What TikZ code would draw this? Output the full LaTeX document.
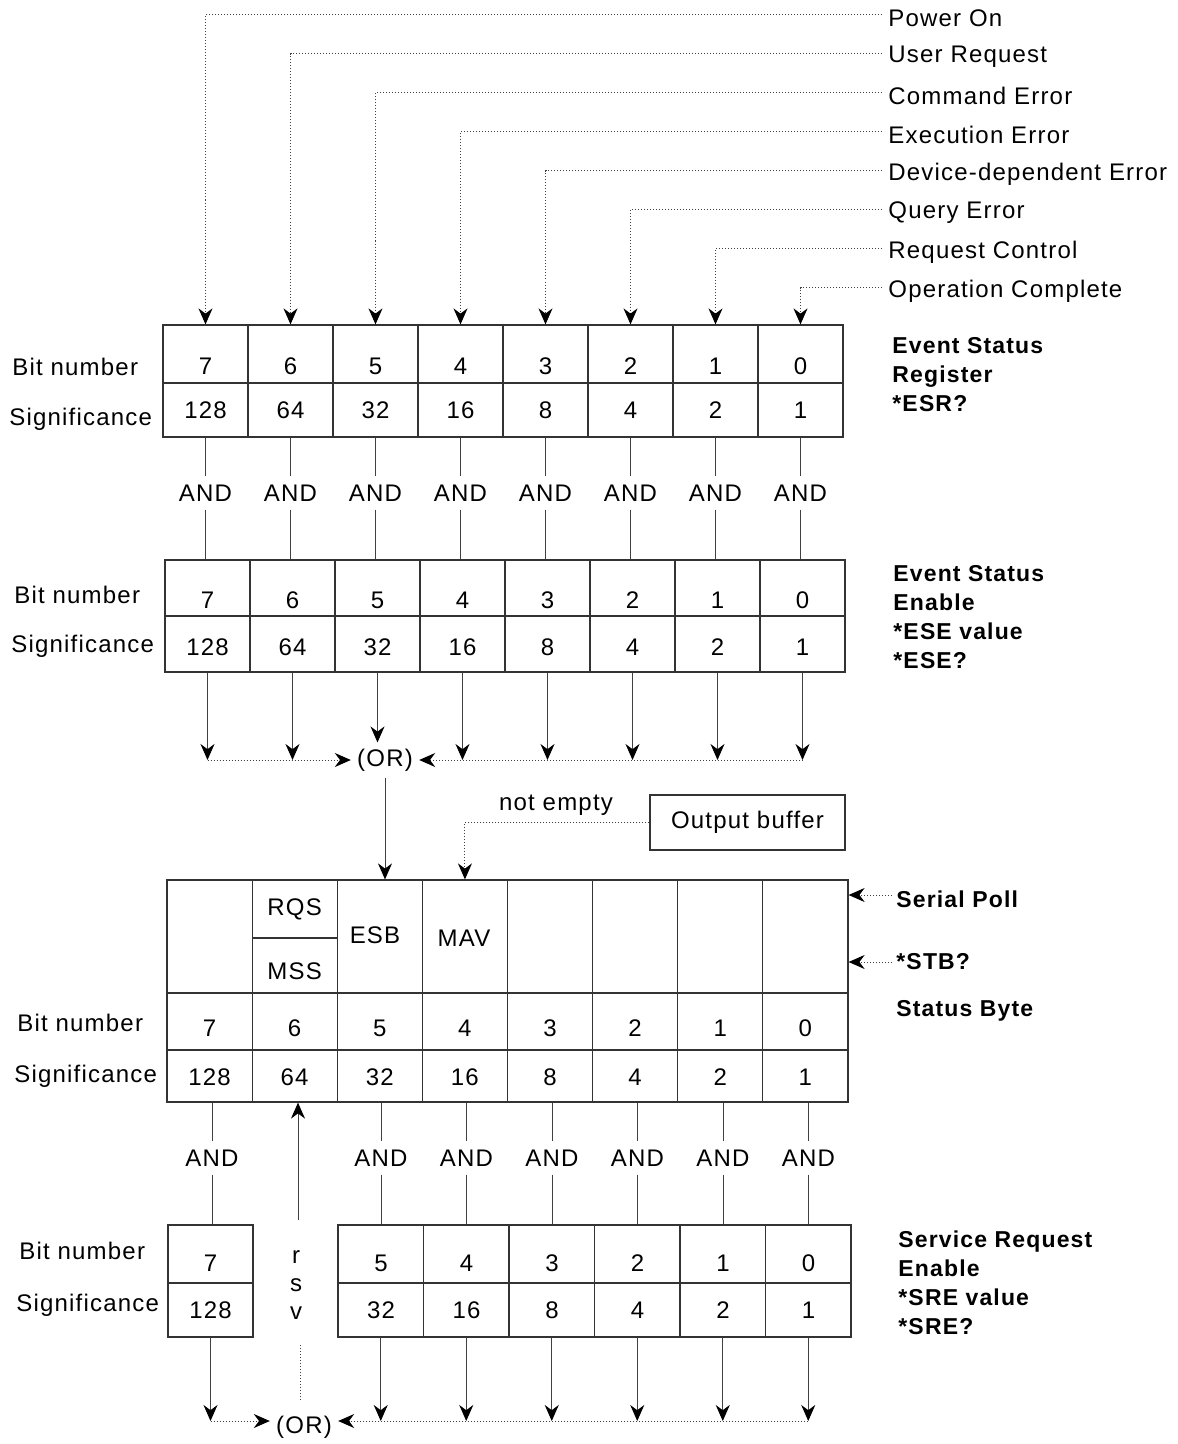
\documentclass[tikz,border=0pt]{standalone}
\usepackage{fontspec}
\setmainfont{Liberation Sans}[LetterSpace=5]
\usetikzlibrary{arrows.meta,fit}
\begin{document}
\begin{tikzpicture}[x=0.5pt,y=-0.5pt,
  lbl/.style={font=\fontsize{12}{14}\selectfont, inner sep=1pt},
  srcl/.style={font=\fontsize{12}{14}\selectfont, inner sep=3pt, anchor=west},
  orn/.style={font=\fontsize{12}{14}\selectfont, inner sep=3pt},
  andn/.style={font=\fontsize{12}{14}\selectfont, inner sep=4pt},
  blbl/.style={font=\bfseries\fontsize{11.5}{14.5}\selectfont, align=left, anchor=north west, inner sep=0pt},
  bone/.style={font=\bfseries\fontsize{11.5}{14.5}\selectfont, anchor=west, inner sep=2pt},
  cellbox/.style={draw=black!80, line width=0.6pt, inner sep=0pt, fit={#1}},
  wire/.style={draw=black!75, line width=0.5pt},
  lead/.style={draw=black!75, line width=0.5pt, densely dotted},
  arr/.style={-{Stealth[length=8pt,width=7pt,inset=2.6pt,color=black]}}
]
\fill[white] (0,0) rectangle (1177,1444);
\useasboundingbox (0,0) rectangle (1177,1444);

% ---------- top source labels ----------
\foreach \n/\t/\y in {po/Power On/18, ur/User Request/57, ce/Command Error/96,
  ee/Execution Error/135, dd/Device-dependent Error/174, qe/Query Error/213,
  rc/Request Control/252, oc/Operation Complete/291}
  \node[srcl] (\n) at (882,\y) {\t};

% ---------- Event Status Register ----------
\foreach \b/\s [count=\i from 0] in {7/128,6/64,5/32,4/16,3/8,2/4,1/2,0/1} {
  \pgfmathsetmacro\xa{163+85*\i}
  \pgfmathsetmacro\xb{\xa+85}
  \pgfmathsetmacro\xc{\xa+42.5}
  \node[cellbox={(\xa,325) (\xb,383)}] (esrT\b) {};
  \node[cellbox={(\xa,383) (\xb,437)}] (esrS\b) {};
  \node[lbl] (esrBn\b) at (\xc,366) {\b};
  \node[lbl] (esrSv\b) at (\xc,410) {\s};
  \node[andn] (andA\b) at (\xc,493) {AND};
}
\node[lbl, anchor=west] (esrBit) at (10,367) {Bit number};
\node[lbl, anchor=west] (esrSig) at (7,419) {Significance};
\node[blbl] (esrL) at (892,337) {Event Status\\Register\\*ESR?};

% leaders into the ESR
\draw[lead,arr] ([yshift=1.5pt]po.west) -| (esrT7.north);
\draw[lead,arr] ([yshift=1.5pt]ur.west) -| (esrT6.north);
\draw[lead,arr] ([yshift=1.5pt]ce.west) -| (esrT5.north);
\draw[lead,arr] ([yshift=1.5pt]ee.west) -| (esrT4.north);
\draw[lead,arr] ([yshift=1.5pt]dd.west) -| (esrT3.north);
\draw[lead,arr] ([yshift=1.5pt]qe.west) -| (esrT2.north);
\draw[lead,arr] ([yshift=1.5pt]rc.west) -| (esrT1.north);
\draw[lead,arr] ([yshift=1.5pt]oc.west) -| (esrT0.north);

% ---------- Event Status Enable ----------
\foreach \b/\s [count=\i from 0] in {7/128,6/64,5/32,4/16,3/8,2/4,1/2,0/1} {
  \pgfmathsetmacro\xa{165+85*\i}
  \pgfmathsetmacro\xb{\xa+85}
  \pgfmathsetmacro\xc{\xa+42.5}
  \node[cellbox={(\xa,560) (\xb,616)}] (eseT\b) {};
  \node[cellbox={(\xa,616) (\xb,672)}] (eseS\b) {};
  \node[lbl] (eseBn\b) at (\xc,600) {\b};
  \node[lbl] (eseSv\b) at (\xc,647) {\s};
}
\node[lbl, anchor=west] (eseBit) at (12,595) {Bit number};
\node[lbl, anchor=west] (eseSig) at (9,646) {Significance};
\node[blbl] (eseL) at (893,565) {Event Status\\Enable\\*ESE value\\*ESE?};

\foreach \b in {7,6,5,4,3,2,1,0} {
  \draw[wire] (esrS\b.south) -- (andA\b.north);
  \draw[wire] (andA\b.south) -- (andA\b.south |- eseT\b.north);
}

% ---------- first OR ----------
\node[orn] (orA) at (385,760) {(OR)};
\foreach \b in {7,6,4,3,2,1,0}
  \draw[wire,arr] (eseS\b.south) -- (eseS\b.south |- orA.west);
\draw[wire,arr] (eseS5.south) -- (eseS5.south |- orA.north);
\draw[lead,arr] (eseS7.south |- orA.west) -- (orA.west);
\draw[lead,arr] (eseS0.south |- orA.east) -- (orA.east);

% ---------- Status Byte ----------
\foreach \b/\s [count=\i from 0] in {7/128,6/64,5/32,4/16,3/8,2/4,1/2,0/1} {
  \pgfmathsetmacro\xa{167+85.125*\i}
  \pgfmathsetmacro\xb{\xa+85.125}
  \pgfmathsetmacro\xc{\xa+42.5}
  \ifnum\b=6
    \node[cellbox={(\xa,880) (\xb,938)}] (sbT\b) {};
    \node[cellbox={(\xa,938) (\xb,993)}] (sbM\b) {};
  \else
    \node[cellbox={(\xa,880) (\xb,993)}] (sbT\b) {};
  \fi
  \node[cellbox={(\xa,993) (\xb,1050)}] (sbB\b) {};
  \node[cellbox={(\xa,1050) (\xb,1102)}] (sbS\b) {};
  \node[lbl] (sbBn\b) at (\xc,1028) {\b};
  \node[lbl] (sbSv\b) at (\xc,1077) {\s};
}
\node[lbl] (rqs) at (sbT6.center) {RQS};
\node[lbl] (mss) at ([yshift=-3pt]sbM6.center) {MSS};
\node[lbl] (esb) at (375,935) {ESB};
\node[lbl] (mav) at (464,938) {MAV};
\node[lbl, anchor=west] (sbBit) at (15,1023) {Bit number};
\node[lbl, anchor=west] (sbSig) at (12,1076) {Significance};

\draw[wire,arr] (orA.south) -- (orA.south |- sbT5.north);

\node[draw=black!80, line width=0.6pt, minimum width=97.5pt, minimum height=27.5pt, lbl] (ob) at (747.5,822.5) {Output buffer};
\node[lbl] (ne) at (556,805) {not empty};
\draw[lead,arr] (ob.west) -| (sbT4.north);

\node[bone] (sp) at (892,899) {Serial Poll};
\node[bone] (stb) at (892,962) {*STB?};
\node[bone] (sbL) at (892,1011) {Status Byte};
\draw[lead,arr] ([yshift=2pt]sp.west) -- ([yshift=2pt]sp.west -| sbT0.east);
\draw[lead,arr] (stb.west) -- (stb.west -| sbT0.east);

% ---------- Service Request Enable ----------
\node[cellbox={(168,1225) (253,1283)}] (sreB7) {};
\node[cellbox={(168,1283) (253,1337)}] (sreS7) {};
\node[lbl] (sreBn7) at (210.5,1263) {7};
\node[lbl] (sreSv7) at (210.5,1310) {128};
\node[andn] (andB7) at (212,1158) {AND};
\foreach \b/\s [count=\i from 0] in {5/32,4/16,3/8,2/4,1/2,0/1} {
  \pgfmathsetmacro\xa{338+85.5*\i}
  \pgfmathsetmacro\xb{\xa+85.5}
  \pgfmathsetmacro\xc{\xa+43}
  \node[cellbox={(\xa,1225) (\xb,1283)}] (sreB\b) {};
  \node[cellbox={(\xa,1283) (\xb,1337)}] (sreS\b) {};
  \node[lbl] (sreBn\b) at (\xc,1263) {\b};
  \node[lbl] (sreSv\b) at (\xc,1310) {\s};
  \node[andn] (andB\b) at (\xc,1158) {AND};
}
\foreach \b in {7,5,4,3,2,1,0} {
  \draw[wire] (andB\b.north) -- (andB\b.north |- sbS\b.south);
  \draw[wire] (andB\b.south) -- (andB\b.south |- sreB\b.north);
}
\node[lbl, anchor=west] (sreBit) at (17,1251) {Bit number};
\node[lbl, anchor=west] (sreSig) at (14,1305) {Significance};
\node[blbl] (sreL) at (898,1230) {Service Request\\Enable\\*SRE value\\*SRE?};

\node[lbl, align=center] (rsv) at (296,1285) {r\\s\\v};
\coordinate (rsvtop) at (298,1220);
\draw[wire,arr] (rsvtop) -- (rsvtop |- sbS6.south);

% ---------- second OR ----------
\node[orn] (orB) at (304,1427) {(OR)};
\coordinate (orline) at (0,1421);
\coordinate (rsvbot) at (300,1345);
\draw[lead] (rsvbot) -- (rsvbot |- 0,1400);
\foreach \b in {7,5,4,3,2,1,0}
  \draw[wire,arr] (sreS\b.south) -- (sreS\b.south |- orline);
\draw[lead,arr] (sreS7.south |- orline) -- (orB.west |- orline);
\draw[lead,arr] (sreS0.south |- orline) -- (orB.east |- orline);
\end{tikzpicture}
\end{document}
